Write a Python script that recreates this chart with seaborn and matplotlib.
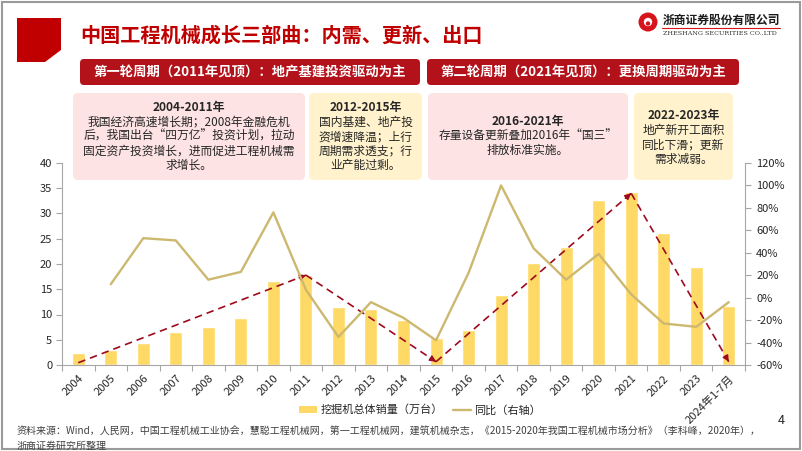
import numpy as np
import pandas as pd
import matplotlib
matplotlib.use("Agg")
import matplotlib.pyplot as plt
import seaborn as sns
from matplotlib.patches import FancyBboxPatch, Polygon, Rectangle, Circle, Patch
from matplotlib.lines import Line2D
from matplotlib.ticker import FuncFormatter

# ---------------- data ----------------
years = ['2004', '2005', '2006', '2007', '2008', '2009', '2010', '2011', '2012', '2013',
         '2014', '2015', '2016', '2017', '2018', '2019', '2020', '2021', '2022', '2023',
         '2024年1-7月']
sales = [2.4, 3.0, 4.3, 6.5, 7.6, 9.4, 16.6, 17.8, 11.5, 11.1,
         9.0, 5.4, 6.9, 13.9, 20.2, 23.4, 32.7, 34.2, 26.1, 19.4, 11.6]
yoy = [np.nan, 12, 53, 51, 16, 23, 76, 7, -35, -4,
       -18, -38, 22, 100, 44, 16, 39, 3, -23, -26, -4]
# cycle trend arrows (category index, left-axis value)
trend_idx = [0, 7, 11, 17, 20]
trend_val = [0.45, 17.8, 0.65, 34.0, 0.65]

title = '中国工程机械成长三部曲：内需、更新、出口'
header1 = '第一轮周期（2011年见顶）：地产基建投资驱动为主'
header2 = '第二轮周期（2021年见顶）：更换周期驱动为主'
box_titles = ['2004-2011年', '2012-2015年', '2016-2021年', '2022-2023年']
box_texts = [
    ['我国经济高速增长期；2008年金融危机', '后，我国出台“四万亿”投资计划，拉动',
     '固定资产投资增长，进而促进工程机械需', '求增长。'],
    ['国内基建、地产投', '资增速降温；上行', '周期需求透支；行', '业产能过剩。'],
    ['存量设备更新叠加2016年“国三”', '排放标准实施。'],
    ['地产新开工面积', '同比下滑；更新', '需求减弱。'],
]
legend_labels = ['挖掘机总体销量（万台）', '同比（右轴）']
source1 = ('资料来源：Wind，人民网，中国工程机械工业协会，慧聪工程机械网，第一工程机械网，建筑机械杂志，'
           '《2015-2020年我国工程机械市场分析》（李科峰，2020年），')
source2 = '浙商证券研究所整理'
company_cn = '浙商证券股份有限公司'
company_en = 'ZHESHANG SECURITIES CO.,LTD'

# ---------------- style ----------------
sns.set_style('white')
plt.rcParams['font.family'] = ['Noto Sans CJK SC', 'DejaVu Sans']
plt.rcParams['axes.unicode_minus'] = False

RED = '#C00000'
BAR = '#FFD966'
LINE = '#CDB870'
ARROW = '#9E0A1E'
PINK = '#FDE3E4'
YEL = '#FFF2CC'
SPINE = '#A6A6A6'
TXT = '#262626'

W, H = 802, 451
fig = plt.figure(figsize=(W / 100, H / 100), dpi=100)
fig.patch.set_facecolor('white')

# ---------------- chart ----------------
L, R, T, B = 62, 745, 163, 365
ax = fig.add_axes([L / W, 1 - B / H, (R - L) / W, (B - T) / H])
df = pd.DataFrame({'year': years, 'sales': sales, 'yoy': yoy})
sns.barplot(data=df, x='year', y='sales', color=BAR, saturation=1, width=0.4, ax=ax, zorder=2)
ax.set_ylim(0, 40)
ax.set_yticks(range(0, 41, 5))
ax.set_xlabel('')
ax.set_ylabel('')

ax2 = ax.twinx()
sns.lineplot(x=np.arange(len(years)), y=df['yoy'], color=LINE, lw=1.7, ax=ax2)
ax2.set_ylim(-60, 120)
ax2.set_yticks(range(-60, 121, 20))
ax2.yaxis.set_major_formatter(FuncFormatter(lambda v, p: f'{v:.0f}%'))
ax2.set_ylabel('')
ax.set_xlim(-0.5, len(years) - 0.5)
ax2.set_xlim(-0.5, len(years) - 0.5)

for a in (ax, ax2):
    a.set_facecolor('none')
    for s in a.spines.values():
        s.set_visible(False)
        s.set_color(SPINE)
        s.set_linewidth(0.8)
ax.spines['left'].set_visible(True)
ax.spines['bottom'].set_visible(True)
ax2.spines['right'].set_visible(True)

ax.tick_params(axis='y', direction='out', length=4, width=0.8, color=SPINE,
               labelsize=8, labelcolor=TXT, pad=3, left=True)
ax2.tick_params(axis='y', direction='out', length=4, width=0.8, color=SPINE,
                labelsize=8, labelcolor=TXT, pad=4, right=True)
ax.set_xticks(range(len(years)))
ax.set_xticklabels(years, rotation=45, ha='right', rotation_mode='anchor', fontsize=8, color=TXT)
ax.tick_params(axis='x', which='major', length=0, pad=6)
ax.set_xticks(np.arange(-0.5, len(years), 1), minor=True)
ax.tick_params(axis='x', which='minor', direction='out', length=4, width=0.8, color=SPINE, bottom=True)

# trend arrows
for i in range(len(trend_idx) - 1):
    x0, y0 = trend_idx[i], trend_val[i]
    x1, y1 = trend_idx[i + 1], trend_val[i + 1]
    ax.plot([x0, x1], [y0, y1], color=ARROW, lw=1.2, ls=(0, (4.5, 3)), zorder=5)
    ax.annotate('', xy=(x1, y1), xytext=(x1 - 0.03 * (x1 - x0), y1 - 0.03 * (y1 - y0)),
                arrowprops=dict(arrowstyle='-|>', color=ARROW, lw=1.0,
                                mutation_scale=9, shrinkA=0, shrinkB=0), zorder=6)

# ---------------- overlay (pixel coordinates) ----------------
ov = fig.add_axes([0, 0, 1, 1], zorder=10)
ov.set_xlim(0, W)
ov.set_ylim(H, 0)
ov.axis('off')
ov.patch.set_alpha(0)

# border
ov.add_patch(Rectangle((1.5, 1.5), W - 3.5, H - 3.5, fill=False, ec='#9A9A9A', lw=1.5))
# red corner block
ov.add_patch(Polygon([(17, 18), (61, 18), (61, 50), (45, 62), (17, 62)], closed=True, fc=RED, ec='none'))
# title
ov.text(80, 35, title, fontsize=14.5, fontweight='bold', color=RED, va='center', ha='left')

# logo
ov.add_patch(Circle((648, 22), 9.5, fc='#D7141B', ec='none'))
ov.add_patch(Circle((648, 22), 4.2, fc='white', ec='none'))
ov.add_patch(Circle((648, 23.5), 2.2, fc='#D7141B', ec='none'))
ov.text(663, 20, company_cn, fontsize=8.5, fontweight='bold', color='#1a1a1a', va='center', ha='left')
ov.plot([662, 780], [28, 28], color='#D7141B', lw=0.8)
ov.text(663, 33, company_en, fontsize=4.6, family='DejaVu Serif', color='#333333', va='center', ha='left')

# header bars
for (x0, x1, txt) in [(80, 420, header1), (427, 739, header2)]:
    ov.add_patch(FancyBboxPatch((x0, 59), x1 - x0, 26, boxstyle='round,pad=0,rounding_size=4',
                                fc='#B4121B', ec='none'))
    ov.text((x0 + x1) / 2, 72, txt, fontsize=9.6, fontweight='bold', color='white',
            va='center', ha='center')

# text boxes
boxes = [(73, 305, PINK, 108), (309, 422, YEL, 108), (428, 628, PINK, 122), (634, 733, YEL, 116)]
for (x0, x1, col, ystart), bt, lines in zip(boxes, box_titles, box_texts):
    ov.add_patch(FancyBboxPatch((x0, 93), x1 - x0, 87, boxstyle='round,pad=0,rounding_size=5',
                                fc=col, ec='none'))
    cx = (x0 + x1) / 2
    ov.text(cx, ystart, bt, fontsize=8.6, fontweight='bold', color=TXT, va='center', ha='center')
    for k, ln in enumerate(lines):
        ov.text(cx, ystart + 14.3 * (k + 1), ln, fontsize=8.5, color=TXT, va='center', ha='center')

# legend
handles = [Patch(fc=BAR, ec='none'), Line2D([0], [0], color=LINE, lw=1.7)]
fig.legend(handles, legend_labels, loc='center', bbox_to_anchor=(420 / W, 1 - 410 / H), ncol=2,
           frameon=False, fontsize=8, handlelength=1.6, handleheight=0.6, handletextpad=0.3,
           columnspacing=0.9, labelcolor=TXT)

# footer
ov.text(17, 432, source1, fontsize=7.2, color='#404040', va='center', ha='left')
ov.text(17, 446, source2, fontsize=7.2, color='#404040', va='center', ha='left')
ov.text(781, 421, '4', fontsize=9, color=TXT, va='center', ha='center')

fig.savefig('out.png', dpi=100, facecolor='white')
